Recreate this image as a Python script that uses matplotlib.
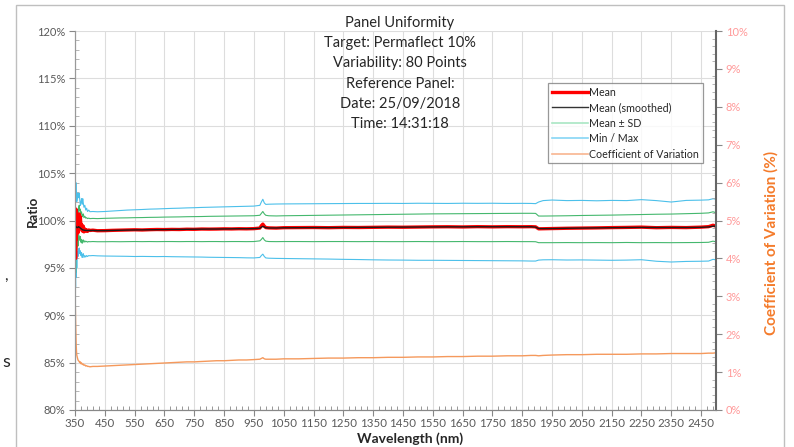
import matplotlib
matplotlib.use("Agg")
import matplotlib.pyplot as plt
from matplotlib.lines import Line2D
from matplotlib.patches import Rectangle
from matplotlib.ticker import MultipleLocator, FixedLocator

# ---------------- data ----------------
wavelength = [350, 351, 352, 353, 354, 355, 356,
              358, 360, 362, 364, 366, 368, 370, 372, 374, 376, 378, 380, 383, 386, 389, 392, 396,
              400, 410, 425,
              450, 475, 500, 525, 550, 575, 600, 625, 650, 675, 700, 725, 750, 775, 800, 825, 850,
              875, 900, 925, 950,
              970, 975, 980, 985, 990,
              1000, 1025, 1050,
              1100, 1150, 1200, 1250, 1300, 1350, 1400, 1450, 1500, 1550, 1600, 1650, 1700, 1750,
              1800, 1850,
              1880, 1895, 1905, 1920,
              1950, 2000, 2050, 2100, 2150, 2200, 2250, 2300, 2350, 2400, 2450,
              2475, 2490, 2500]

mean = [97.5, 100.8, 96.0, 101.2, 98.0, 100.2, 98.6,
        99.8, 98.7, 100.3, 100.7, 99.9, 100.4, 99.2, 99.6, 98.9, 99.3, 99.4, 98.8, 99.1, 98.9, 99.0, 98.85, 99.0,
        98.95, 98.98, 98.92,
        98.93, 98.96, 98.98, 99.0, 99.02, 99.0, 99.03, 99.05, 99.04, 99.06, 99.05, 99.08, 99.07, 99.1, 99.09,
        99.1, 99.12, 99.11, 99.13, 99.12, 99.14,
        99.2, 99.45, 99.62, 99.4, 99.25,
        99.22, 99.2, 99.24,
        99.25, 99.26, 99.24, 99.27, 99.26, 99.28, 99.3, 99.29, 99.31, 99.33, 99.34, 99.32, 99.35, 99.33,
        99.35, 99.34,
        99.35, 99.33, 99.12, 99.13,
        99.15, 99.18, 99.2, 99.22, 99.25, 99.27, 99.3, 99.24, 99.27, 99.25, 99.3,
        99.35, 99.5, 99.4]

mean_smoothed = [99.6, 99.5, 99.4, 99.35, 99.3, 99.3, 99.25,
                 99.25, 99.3, 99.35, 99.3, 99.25, 99.2, 99.15, 99.1, 99.05, 99.0, 99.0, 98.98, 98.96, 98.95,
                 98.95, 98.94, 98.94,
                 98.94, 98.95, 98.93,
                 98.93, 98.95, 98.97, 98.99, 99.0, 99.01, 99.02, 99.03, 99.04, 99.05, 99.06, 99.07, 99.08,
                 99.09, 99.1, 99.1, 99.11, 99.12, 99.13, 99.13, 99.14,
                 99.18, 99.3, 99.38, 99.32, 99.24,
                 99.21, 99.21, 99.23,
                 99.24, 99.25, 99.25, 99.26, 99.27, 99.28, 99.29, 99.3, 99.31, 99.32, 99.33, 99.33, 99.34,
                 99.34, 99.34, 99.34,
                 99.34, 99.3, 99.15, 99.14,
                 99.15, 99.18, 99.2, 99.22, 99.24, 99.26, 99.27, 99.26, 99.26, 99.26, 99.28,
                 99.32, 99.4, 99.4]

sd_upper = [99.5, 101.0, 99.8, 101.3, 100.2, 101.0, 100.5,
            101.2, 100.6, 101.3, 101.6, 101.0, 101.2, 100.7, 100.9, 100.4, 100.6, 100.7, 100.3, 100.45, 100.25,
            100.3, 100.2, 100.25,
            100.2, 100.22, 100.2,
            100.23, 100.25, 100.27, 100.28, 100.3, 100.31, 100.33, 100.34, 100.36, 100.37, 100.38, 100.4,
            100.41, 100.42, 100.44, 100.45, 100.46, 100.47, 100.48, 100.49, 100.5,
            100.55, 100.75, 100.95, 100.7, 100.55,
            100.5, 100.48, 100.5,
            100.52, 100.54, 100.56, 100.58, 100.6, 100.62, 100.64, 100.66, 100.68, 100.7, 100.71, 100.72,
            100.73, 100.74, 100.75, 100.76,
            100.76, 100.75, 100.47, 100.47,
            100.48, 100.5, 100.53, 100.55, 100.57, 100.6, 100.63, 100.66, 100.68, 100.72, 100.76,
            100.8, 100.92, 100.82]

sd_lower = [95.5, 99.0, 94.5, 98.8, 96.2, 98.0, 97.0,
            98.2, 97.3, 98.5, 98.3, 97.9, 98.3, 97.7, 98.0, 97.6, 97.9, 97.95, 97.7, 97.85, 97.75, 97.8,
            97.72, 97.78,
            97.76, 97.78, 97.76,
            97.76, 97.77, 97.76, 97.77, 97.78, 97.77, 97.78, 97.77, 97.78, 97.78, 97.77, 97.78, 97.78,
            97.77, 97.78, 97.78, 97.77, 97.78, 97.78, 97.77, 97.78,
            97.85, 98.0, 98.2, 97.95, 97.82,
            97.78, 97.77, 97.78,
            97.78, 97.77, 97.78, 97.78, 97.77, 97.78, 97.77, 97.77, 97.78, 97.77, 97.77, 97.78, 97.77,
            97.77, 97.78, 97.77,
            97.77, 97.76, 97.66, 97.66,
            97.66, 97.67, 97.66, 97.67, 97.66, 97.68, 97.66, 97.67, 97.66, 97.67, 97.68,
            97.7, 97.82, 97.75]

max_ratio = [106.0, 103.5, 102.2, 104.0, 102.6, 103.0, 102.0,
             102.5, 102.9, 102.4, 102.87, 102.2, 101.6, 101.9, 102.3, 101.7, 102.3, 101.8, 101.4, 101.6,
             101.1, 101.3, 100.95, 101.1,
             100.93, 100.95, 100.92,
             100.95, 101.0, 101.05, 101.1, 101.13, 101.16, 101.2, 101.22, 101.25, 101.28, 101.3, 101.33,
             101.35, 101.38, 101.4, 101.42, 101.44, 101.46, 101.48, 101.5, 101.52,
             101.6, 101.95, 102.24, 101.85, 101.7,
             101.72, 101.74, 101.75,
             101.76, 101.77, 101.78, 101.79, 101.8, 101.8, 101.81, 101.8, 101.82, 101.81, 101.8, 101.82,
             101.81, 101.82, 101.8, 101.81,
             101.8, 101.78, 101.95, 102.1,
             102.16, 102.1, 102.12, 102.08, 102.12, 102.1, 102.2, 102.1, 101.95, 102.12, 102.15,
             102.18, 102.3, 102.25]

min_ratio = [91.8, 94.5, 93.0, 96.0, 94.0, 95.8, 95.0,
             96.8, 96.2, 96.9, 97.1, 96.5, 96.8, 96.3, 96.6, 96.1, 96.4, 96.5, 96.1, 96.3, 96.15, 96.3,
             96.2, 96.3,
             96.28, 96.3, 96.27,
             96.25, 96.24, 96.23, 96.22, 96.2, 96.21, 96.2, 96.19, 96.2, 96.18, 96.17, 96.16, 96.15,
             96.14, 96.12, 96.11, 96.1, 96.09, 96.08, 96.06, 96.05,
             96.1, 96.3, 96.45, 96.2, 96.05,
             96.02, 96.0, 95.99,
             95.97, 95.95, 95.93, 95.9, 95.88, 95.85, 95.83, 95.82, 95.8, 95.8, 95.79, 95.78, 95.77,
             95.76, 95.75, 95.74,
             95.72, 95.72, 95.82, 95.85,
             95.86, 95.83, 95.84, 95.82, 95.8, 95.82, 95.86, 95.7, 95.62, 95.68, 95.7,
             95.72, 95.9, 95.85]

cv = [3.1, 2.8, 2.35, 2.0, 1.7, 1.55, 1.45,
      1.38, 1.32, 1.3, 1.28, 1.25, 1.27, 1.22, 1.24, 1.21, 1.2, 1.21, 1.18, 1.19, 1.16, 1.17, 1.15, 1.15,
      1.14, 1.15, 1.15,
      1.16, 1.17, 1.18, 1.19, 1.2, 1.21, 1.22, 1.23, 1.24, 1.25, 1.26, 1.27, 1.27, 1.28, 1.29, 1.3,
      1.3, 1.31, 1.32, 1.32, 1.33,
      1.34, 1.36, 1.38, 1.35, 1.34,
      1.34, 1.34, 1.35,
      1.35, 1.36, 1.37, 1.37, 1.38, 1.38, 1.39, 1.39, 1.4, 1.4, 1.41, 1.41, 1.42, 1.42, 1.43, 1.43,
      1.44, 1.44, 1.43, 1.44,
      1.45, 1.46, 1.46, 1.47, 1.47, 1.47, 1.48, 1.48, 1.49, 1.49, 1.49,
      1.5, 1.5, 1.51]

x_ticks = list(range(350, 2451, 100))
left_ticks = [80, 85, 90, 95, 100, 105, 110, 115, 120]
right_ticks = [0, 1, 2, 3, 4, 5, 6, 7, 8, 9, 10]
title_lines = ["Panel Uniformity", "Target: Permaflect 10%", "Variability: 80 Points",
               "Reference Panel:", "Date: 25/09/2018", "Time: 14:31:18"]
legend_labels = ["Mean", "Mean (smoothed)", "Mean \u00b1 SD", "Min / Max", "Coefficient of Variation"]

# ---------------- styling ----------------
plt.rcParams['font.family'] = ['Lato', 'DejaVu Sans']
W, H = 794, 447
fig = plt.figure(figsize=(W / 100, H / 100), dpi=100)

c_red = "#FF0000"
c_black = "#1A1A1A"
c_green = "#45B86E"
c_blue = "#4CC0EA"
c_orange = "#F5995C"
grid_c = "#DDDDDD"
tick_c = "#595959"

ax = fig.add_axes([75 / W, 1 - 410 / H, (716 - 75) / W, (410 - 31) / H])
ax2 = ax.twinx()

ax.plot(wavelength, max_ratio, color=c_blue, lw=0.8, zorder=3)
ax.plot(wavelength, min_ratio, color=c_blue, lw=0.8, zorder=3)
ax.plot(wavelength, sd_upper, color=c_green, lw=0.8, zorder=3)
ax.plot(wavelength, sd_lower, color=c_green, lw=0.8, zorder=3)
ax.plot(wavelength, mean, color=c_red, lw=2.4, zorder=4)
ax.plot(wavelength, mean_smoothed, color=c_black, lw=1.0, zorder=5)
ax2.plot(wavelength, cv, color=c_orange, lw=1.0)

ax.set_xlim(350, 2500)
ax.set_ylim(80, 120)
ax2.set_ylim(0, 10)

ax.xaxis.set_major_locator(FixedLocator(x_ticks))
ax.xaxis.set_minor_locator(FixedLocator(list(range(350, 2501, 20))))
ax.set_xticklabels([str(v) for v in x_ticks])
ax.yaxis.set_major_locator(FixedLocator(left_ticks))
ax.yaxis.set_minor_locator(MultipleLocator(1))
ax.set_yticklabels([f"{v}%" for v in left_ticks])
ax2.yaxis.set_major_locator(FixedLocator(right_ticks))
ax2.yaxis.set_minor_locator(MultipleLocator(0.2))
ax2.set_yticklabels([f"{v}%" for v in right_ticks])

ax.grid(True, which='major', color=grid_c, lw=0.8, zorder=0)
ax.set_axisbelow(True)

ax.tick_params(axis='x', which='major', direction='out', length=4, color="#888888",
               labelsize=8.3, labelcolor=tick_c, pad=2)
ax.tick_params(axis='x', which='minor', direction='in', length=3, color="#888888")
ax.tick_params(axis='y', which='major', direction='out', length=4, color="#888888",
               labelsize=8, labelcolor=tick_c, pad=3)
ax.tick_params(axis='y', which='minor', direction='in', length=3, color="#AAAAAA")
ax2.tick_params(axis='y', which='major', direction='out', length=4, color="#888888",
                labelsize=8, labelcolor="#FF9999", pad=3)
ax2.tick_params(axis='y', which='minor', direction='in', length=3, color="#AAAAAA")

for a in (ax, ax2):
    a.spines['top'].set_visible(False)
    a.spines['left'].set_color("#999999")
    a.spines['bottom'].set_color("#888888")
ax2.spines['right'].set_color("#666666")
ax2.spines['right'].set_linewidth(1.5)
ax.spines['right'].set_visible(False)

fig.text(410 / W, 1 - 439 / H, "Wavelength (nm)", ha='center', va='center',
         fontsize=10, fontweight='bold', color="#262626")
fig.text(33 / W, 1 - 211 / H, "Ratio", rotation=90, ha='center', va='center',
         fontsize=9.5, fontweight='bold', color="#262626")
fig.text(771 / W, 1 - 243 / H, "Coefficient of Variation (%)", rotation=90, ha='center',
         va='center', fontsize=11, fontweight='bold', color="#F47B2B")

for i, line in enumerate(title_lines):
    fig.text(400 / W, 1 - (23 + 20.2 * i) / H, line, ha='center', va='center',
             fontsize=10.5, color="#262626")

handles = [Line2D([], [], color=c_red, lw=2.4),
           Line2D([], [], color="#333333", lw=1.0),
           Line2D([], [], color="#A9E6C4", lw=1.2),
           Line2D([], [], color="#86D6F5", lw=1.2),
           Line2D([], [], color="#F8B590", lw=1.2)]
leg = ax2.legend(handles, legend_labels, loc='upper left',
                 bbox_to_anchor=(548 / W, 1 - 83 / H), bbox_transform=fig.transFigure,
                 fontsize=7.7, frameon=True, fancybox=False, handlelength=3.4,
                 handletextpad=0.1, labelspacing=0.42, borderpad=0.35, borderaxespad=0)
leg.get_frame().set_edgecolor("#7F7F7F")
leg.get_frame().set_linewidth(0.9)
for t in leg.get_texts():
    t.set_color("#262626")

# outer chart-area border
fig.patches.append(Rectangle((16 / W, -0.05), (784 - 16) / W, 1 - 5 / H + 0.05,
                             transform=fig.transFigure, fill=False, edgecolor="#BFBFBF", lw=1))
# stray text from the page outside the chart
fig.text(4 / W, 1 - 276 / H, ",", fontsize=11, color="#262626", ha='left', va='center')
fig.text(2 / W, 1 - 362 / H, "s", fontsize=13, color="#262626", ha='left', va='center')

fig.savefig("out.png", dpi=100)
